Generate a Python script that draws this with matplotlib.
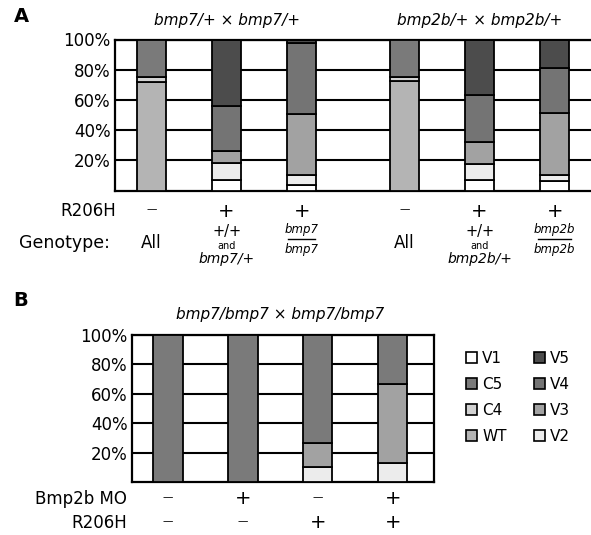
import matplotlib
matplotlib.use('Agg')
import matplotlib.pyplot as plt
import matplotlib.transforms as mtransforms
from matplotlib.patches import Patch

plt.rcParams['font.family'] = ['DejaVu Sans']

# ---------------- data ----------------
categories = ['V1', 'V2', 'V3', 'V4', 'V5', 'WT', 'C4', 'C5']   # stacking order, bottom -> top

# Panel A: bmp7/+ x bmp7/+ (3 bars), bmp2b/+ x bmp2b/+ (3 bars)
a_crosses = ['bmp7/+ × bmp7/+', 'bmp2b/+ × bmp2b/+']
a_r206h = ['—', '+', '+', '—', '+', '+']
a_genotype = ['All', 'het:bmp7', 'frac:bmp7', 'All', 'het:bmp2b', 'frac:bmp2b']
a_V1 = [0, 7, 3.5, 0, 7, 6]
a_V2 = [0, 11.5, 6.5, 0, 10.5, 4]
a_V3 = [0, 7.5, 40.5, 0, 14.5, 41]
a_V4 = [0, 30, 47.5, 0, 31, 30]
a_V5 = [0, 44, 2, 0, 37, 19]
a_WT = [72, 0, 0, 72.5, 0, 0]
a_C4 = [3, 0, 0, 2.5, 0, 0]
a_C5 = [25, 0, 0, 25, 0, 0]

# Panel B: bmp7/bmp7 x bmp7/bmp7
b_cross = 'bmp7/bmp7 × bmp7/bmp7'
b_mo = ['—', '+', '—', '+']
b_r206h = ['—', '—', '+', '+']
b_V1 = [0, 0, 0, 0]
b_V2 = [0, 0, 10, 13]
b_V3 = [0, 0, 16.5, 54]
b_V4 = [0, 0, 0, 0]
b_V5 = [0, 0, 0, 0]
b_WT = [0, 0, 0, 0]
b_C4 = [0, 0, 0, 0]
b_C5 = [100, 100, 73.5, 33]

yticks = [20, 40, 60, 80, 100]
ytick_labels = ['20%', '40%', '60%', '80%', '100%']
legend_order = ['V1', 'C5', 'C4', 'WT', 'V5', 'V4', 'V3', 'V2']

# ---------------- style ----------------
colors = {
    'V1': '#ffffff', 'V2': '#ececec', 'V3': '#a2a2a2', 'V4': '#747474',
    'V5': '#4c4c4c', 'WT': '#b4b4b4', 'C4': '#d2d2d2', 'C5': '#7a7a7a',
}
W, H = 591, 535
fig = plt.figure(figsize=(W / 100, H / 100), dpi=100)


def fx(x):
    return x / W


def fy(y):
    return 1 - y / H


def style_axes(ax, xlim):
    ax.set_xlim(*xlim)
    ax.set_ylim(0, 100)
    ax.set_yticks(yticks)
    ax.set_yticklabels(ytick_labels, fontsize=12)
    ax.tick_params(axis='y', length=0, pad=3)
    ax.set_xticks([])
    ax.set_axisbelow(True)
    ax.yaxis.grid(True, color='black', linewidth=1.5)
    for s in ax.spines.values():
        s.set_linewidth(1.6)
        s.set_color('black')


def draw_stack(ax, pos, data):
    bottom = [0] * len(pos)
    for cat in categories:
        vals = data[cat]
        ax.bar(pos, vals, bottom=bottom, width=0.39, color=colors[cat],
               edgecolor='black', linewidth=1.3, zorder=3)
        bottom = [b + v for b, v in zip(bottom, vals)]


def sign(ax, tr, x, y, sym):
    if sym == '+':
        ax.text(x, fy(y), '+', transform=tr, ha='center', va='center', fontsize=14)
    else:
        ax.text(x, fy(y - 2), '—', transform=tr, ha='center', va='center', fontsize=7.5)


# ---------------- Panel A ----------------
axA = fig.add_axes([fx(115), fy(190.5), fx(591 - 115) + 0.002, (190.5 - 39.5) / H])
posA = [0, 1, 2, 3.37, 4.37, 5.37]
dataA = {'V1': a_V1, 'V2': a_V2, 'V3': a_V3, 'V4': a_V4, 'V5': a_V5,
         'WT': a_WT, 'C4': a_C4, 'C5': a_C5}
draw_stack(axA, posA, dataA)
style_axes(axA, (-0.487, 5.87))

trA = mtransforms.blended_transform_factory(axA.transData, fig.transFigure)
axA.text((posA[0] + posA[2]) / 2, fy(20), a_crosses[0], transform=trA,
         ha='center', va='center', fontsize=11, style='italic')
axA.text((posA[3] + posA[5]) / 2, fy(20), a_crosses[1], transform=trA,
         ha='center', va='center', fontsize=11, style='italic')
fig.text(fx(21), fy(17), 'A', ha='center', va='center', fontsize=14, fontweight='bold')
fig.text(fx(116), fy(211), 'R206H', ha='right', va='center', fontsize=12)
fig.text(fx(110), fy(243), 'Genotype:', ha='right', va='center', fontsize=12.5)

for p, sym, g in zip(posA, a_r206h, a_genotype):
    sign(axA, trA, p, 211, sym)
    if g == 'All':
        axA.text(p, fy(243), 'All', transform=trA, ha='center', va='center', fontsize=12)
    elif g.startswith('het:'):
        gene = g.split(':')[1]
        axA.text(p, fy(231), '+/+', transform=trA, ha='center', va='center', fontsize=10.5)
        axA.text(p, fy(246), 'and', transform=trA, ha='center', va='center', fontsize=7)
        axA.text(p, fy(259), gene + '/+', transform=trA, ha='center', va='center',
                 fontsize=10, style='italic')
    else:
        gene = g.split(':')[1]
        axA.text(p, fy(236), gene, transform=trA, ha='center', va='bottom',
                 fontsize=8.5, style='italic')
        axA.text(p, fy(242.5), gene, transform=trA, ha='center', va='top',
                 fontsize=8.5, style='italic')
        half = 0.22 if len(gene) > 4 else 0.18
        axA.plot([p - half, p + half], [fy(239)] * 2, transform=trA, color='black',
                 linewidth=1.0, clip_on=False)

# ---------------- Panel B ----------------
axB = fig.add_axes([fx(132), fy(482), fx(434 - 132), (482 - 335) / H])
posB = [0, 1, 2, 3]
dataB = {'V1': b_V1, 'V2': b_V2, 'V3': b_V3, 'V4': b_V4, 'V5': b_V5,
         'WT': b_WT, 'C4': b_C4, 'C5': b_C5}
draw_stack(axB, posB, dataB)
style_axes(axB, (-0.48, 3.55))

trB = mtransforms.blended_transform_factory(axB.transData, fig.transFigure)
axB.text((posB[0] + posB[-1]) / 2, fy(314), b_cross, transform=trB,
         ha='center', va='center', fontsize=11, style='italic')
fig.text(fx(21), fy(300), 'B', ha='center', va='center', fontsize=14, fontweight='bold')
fig.text(fx(127), fy(499), 'Bmp2b MO', ha='right', va='center', fontsize=12)
fig.text(fx(127), fy(523), 'R206H', ha='right', va='center', fontsize=12)
for p, m, r in zip(posB, b_mo, b_r206h):
    sign(axB, trB, p, 499, m)
    sign(axB, trB, p, 523, r)

handles = [Patch(facecolor=colors[c], edgecolor='black', linewidth=1.2, label=c)
           for c in legend_order]
fig.legend(handles=handles, ncol=2, loc='upper left',
           bbox_to_anchor=(fx(466), fy(351)), frameon=False, fontsize=11,
           handlelength=0.7, handleheight=0.7, handletextpad=0.35,
           labelspacing=0.72, columnspacing=1.8, borderpad=0, borderaxespad=0)

fig.savefig('out.png', dpi=100)
